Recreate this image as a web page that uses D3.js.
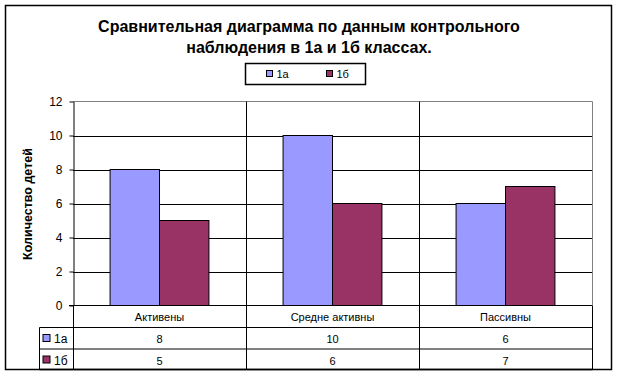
<!DOCTYPE html>
<html>
<head>
<meta charset="utf-8">
<script src="https://cdn.jsdelivr.net/npm/d3@7"></script>
<style>
  body { margin: 0; background: #fff; }
  text { font-family: Arial, "Liberation Sans", sans-serif; fill: #000; }
  .title { font-size: 16px; font-weight: bold; text-anchor: middle; }
  .lab { font-size: 11px; }
  .tick_lab { font-size: 12px; }
</style>
</head>
<body>
<script>
// data
var categories = ["Активены", "Средне активны", "Пассивны"];
var seriesNames = ["1а", "1б"];
var values1a = [8, 10, 6];
var values1b = [5, 6, 7];
var yTicks = [0, 2, 4, 6, 8, 10, 12];
var titleLines = ["Сравнительная диаграмма по данным контрольного",
                  "наблюдения в 1а и 1б классах."];
var yTitle = "Количество детей";
var colors = ["#9999ff", "#993366"];

var w = 618;
var h = 375;

// plot area
var pL = 73, pR = 592, pT = 101.5, pB = 305.5;
// table rows (category row, 1a row, 1b row)
var rowY = [305.5, 327.5, 349, 369.5];
var legColX = 39.5;

var svg = d3.select("body")
            .append("svg")
            .attr("width", w)
            .attr("height", h);

svg.append("rect")
   .attr("x", 0).attr("y", 0)
   .attr("width", w).attr("height", h)
   .attr("fill", "#fff");

// outer frame
svg.append("rect")
   .attr("x", 5.5).attr("y", 5.5)
   .attr("width", 606).attr("height", 364)
   .attr("fill", "none")
   .attr("stroke", "#000")
   .attr("stroke-width", 1.5);

// scales
var scaleX = d3.scaleBand()
               .domain(categories)
               .range([pL, pR]);
var scaleY = d3.scaleLinear()
               .domain([0, 12])
               .range([pB, pT]);

// bar width: gap 150% -> band = 3.5 bars
var barW = scaleX.bandwidth() / 3.5;

// gridlines
svg.selectAll(".grid")
   .data(yTicks.filter(function(d){ return d > 0 && d < 12; }))
   .enter()
   .append("line")
   .attr("x1", pL).attr("x2", pR)
   .attr("y1", function(d){ return Math.round(scaleY(d)) + 0.5; })
   .attr("y2", function(d){ return Math.round(scaleY(d)) + 0.5; })
   .attr("stroke", "#000");

// plot border top / right (gray)
svg.append("path")
   .attr("d", "M" + pL + "," + pT + "H" + (pR + 0.5) + "V" + pB)
   .attr("fill", "none")
   .attr("stroke", "#808080");

// bars
var series = [values1a, values1b];
for (var s = 0; s < series.length; s++) {
    svg.selectAll(".bar" + s)
       .data(series[s])
       .enter()
       .append("rect")
       .attr("x", function(d, i){ return scaleX(categories[i]) + barW * 0.75 + s * barW; })
       .attr("y", function(d){ return scaleY(d); })
       .attr("width", barW)
       .attr("height", function(d){ return pB - scaleY(d); })
       .attr("fill", colors[s])
       .attr("stroke", "#000")
       .attr("stroke-width", 1);
}

// category dividers (through the plot and the table)
svg.selectAll(".div")
   .data(categories.slice(1))
   .enter()
   .append("line")
   .attr("x1", function(d){ return Math.round(scaleX(d)) + 0.5; })
   .attr("x2", function(d){ return Math.round(scaleX(d)) + 0.5; })
   .attr("y1", pT)
   .attr("y2", rowY[3])
   .attr("stroke", "#000");

// left axis
var axisY = d3.axisLeft()
              .scale(scaleY)
              .tickValues(yTicks)
              .tickSizeInner(4)
              .tickSizeOuter(0)
              .tickPadding(7);
var gY = svg.append("g")
            .attr("transform", "translate(" + (pL + 0.5) + ",0)")
            .call(axisY);
gY.select(".domain").attr("stroke", "#000");
gY.selectAll("line").attr("stroke", "#000");
gY.selectAll("text")
  .attr("class", "tick_lab");
gY.attr("font-family", null).attr("font-size", null);

// table lines
svg.append("line")
   .attr("x1", pL - 4).attr("x2", pR)
   .attr("y1", rowY[0]).attr("y2", rowY[0])
   .attr("stroke", "#000");
for (var r = 1; r < rowY.length; r++) {
    svg.append("line")
       .attr("x1", legColX).attr("x2", pR + 0.5)
       .attr("y1", rowY[r]).attr("y2", rowY[r])
       .attr("stroke", "#000")
       .attr("stroke-width", r === 3 ? 1.5 : 1);
}
svg.append("line")
   .attr("x1", pL + 0.5).attr("x2", pL + 0.5)
   .attr("y1", pB).attr("y2", rowY[3])
   .attr("stroke", "#000");
svg.append("line")
   .attr("x1", legColX).attr("x2", legColX)
   .attr("y1", rowY[1]).attr("y2", rowY[3])
   .attr("stroke", "#000");
svg.append("line")
   .attr("x1", pR + 0.5).attr("x2", pR + 0.5)
   .attr("y1", rowY[0]).attr("y2", rowY[3])
   .attr("stroke", "#000");

// category labels
svg.selectAll(".catlab")
   .data(categories)
   .enter()
   .append("text")
   .attr("class", "lab")
   .attr("text-anchor", "middle")
   .attr("x", function(d){ return scaleX(d) + scaleX.bandwidth() / 2; })
   .attr("y", rowY[0] + 15)
   .text(function(d){ return d; });

// value rows
for (var s = 0; s < series.length; s++) {
    svg.selectAll(".val" + s)
       .data(series[s])
       .enter()
       .append("text")
       .attr("class", "lab")
       .attr("text-anchor", "middle")
       .attr("x", function(d, i){ return scaleX(categories[i]) + scaleX.bandwidth() / 2; })
       .attr("y", rowY[s + 1] + 15.5)
       .text(function(d){ return d; });

    // legend key in table
    svg.append("rect")
       .attr("x", legColX + 3.5)
       .attr("y", rowY[s + 1] + 7)
       .attr("width", 7).attr("height", 7)
       .attr("fill", colors[s])
       .attr("stroke", "#000");
    svg.append("text")
       .attr("class", "lab")
       .attr("x", legColX + 14.5)
       .attr("y", rowY[s + 1] + 15.5)
       .style("font-size", "12px")
       .text(seriesNames[s]);
}

// title
for (var t = 0; t < titleLines.length; t++) {
    svg.append("text")
       .attr("class", "title")
       .attr("x", 309)
       .attr("y", 32 + t * 21)
       .text(titleLines[t]);
}

// y axis title
svg.append("text")
   .attr("transform", "translate(32,204) rotate(-90)")
   .attr("text-anchor", "middle")
   .style("font-size", "12.5px")
   .style("font-weight", "bold")
   .text(yTitle);

// top legend
svg.append("rect")
   .attr("x", 245.5).attr("y", 63.5)
   .attr("width", 120).attr("height", 21)
   .attr("fill", "#fff")
   .attr("stroke", "#000")
   .attr("stroke-width", 1.5);
var legX = [266.5, 326.5];
for (var s = 0; s < seriesNames.length; s++) {
    svg.append("rect")
       .attr("x", legX[s]).attr("y", 70.5)
       .attr("width", 6).attr("height", 6)
       .attr("fill", colors[s])
       .attr("stroke", "#000");
    svg.append("text")
       .attr("class", "lab")
       .attr("x", legX[s] + 10)
       .attr("y", 78)
       .text(seriesNames[s]);
}
</script>
</body>
</html>
